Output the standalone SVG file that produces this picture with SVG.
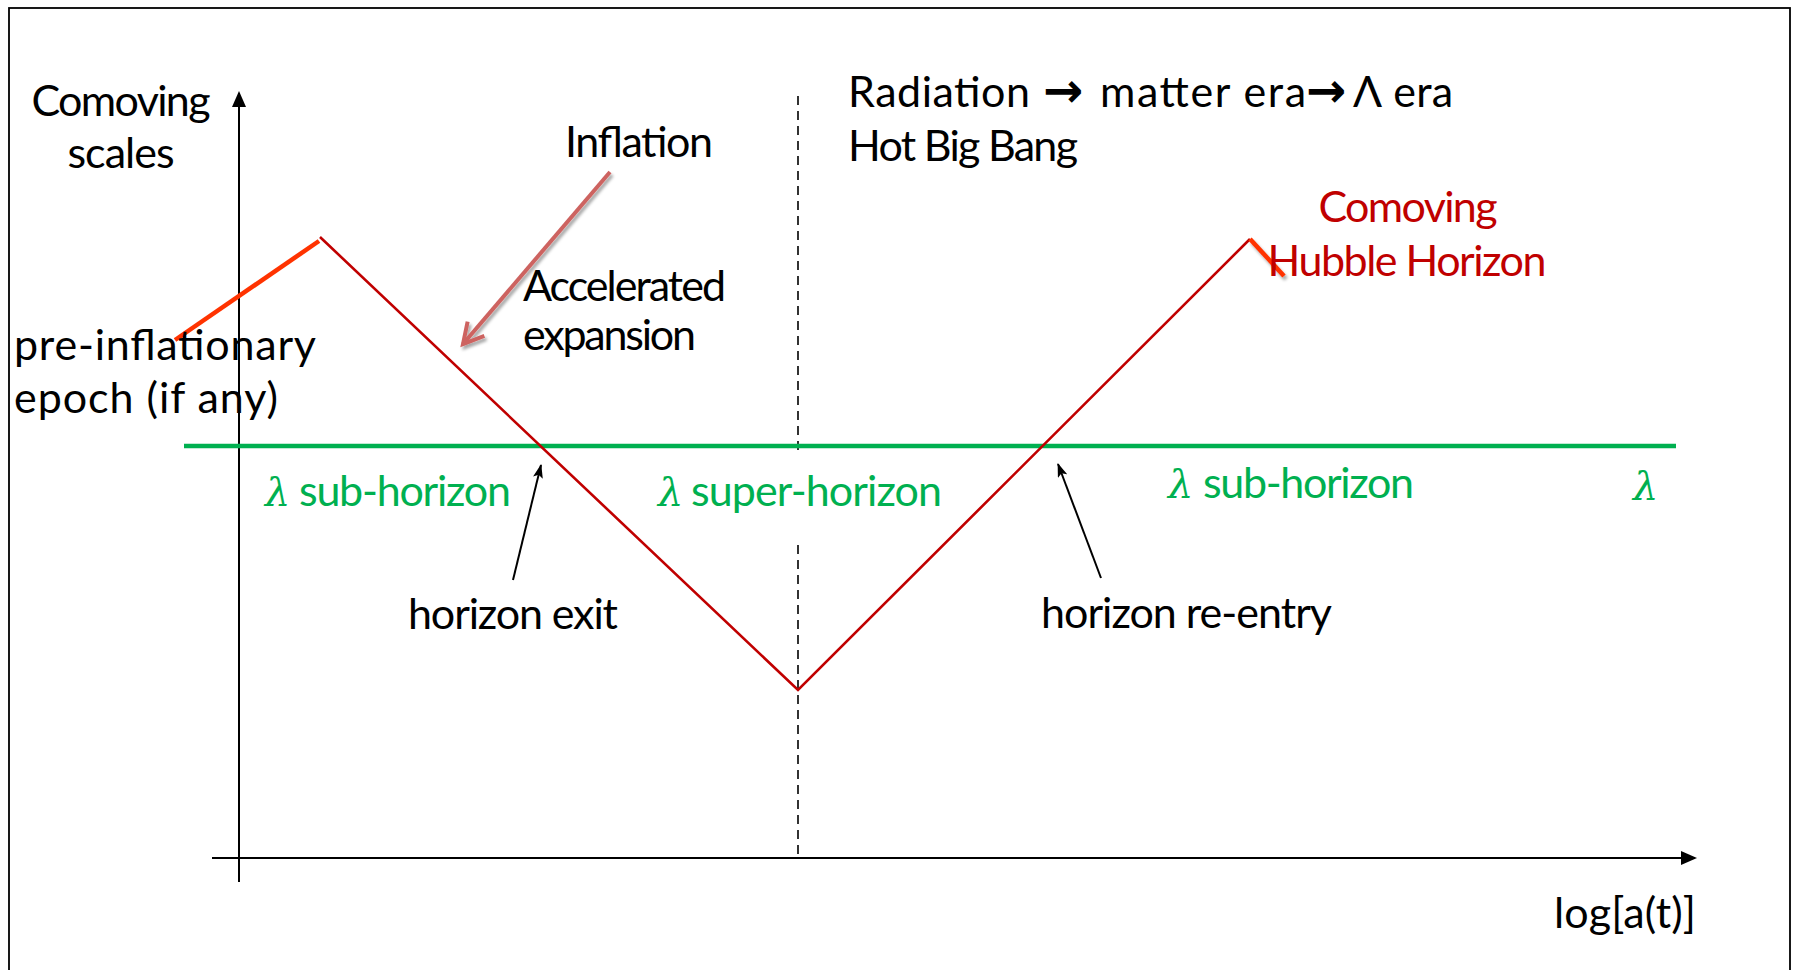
<svg xmlns="http://www.w3.org/2000/svg" width="1801" height="970" viewBox="0 0 1801 970">
<style>
.t{font-family:Lato,"Open Sans","Liberation Sans",sans-serif;font-size:43px;fill:#000}
.r{fill:#c00000}
.g{fill:#00b050}
.lam{font-family:"DejaVu Serif","Liberation Serif",serif;font-style:italic;font-size:40px}
.arr{font-family:"DejaVu Sans",sans-serif;font-weight:bold;font-size:48px}
.ax{stroke:#000;stroke-width:2;fill:none}
.dash{stroke:#000;stroke-width:1.6;stroke-dasharray:9 6;fill:none}
</style>
<defs>
<marker id="ah" markerUnits="userSpaceOnUse" markerWidth="16" markerHeight="14" refX="14" refY="7" orient="auto"><path d="M0,0 L16,7 L0,14 Z" fill="#000"/></marker>
<marker id="sh" markerUnits="userSpaceOnUse" markerWidth="14" markerHeight="10" refX="13" refY="5" orient="auto"><path d="M0,0 L14,5 L0,10 L3,5 Z" fill="#000"/></marker>
<marker id="oa" markerUnits="userSpaceOnUse" markerWidth="30" markerHeight="30" refX="24" refY="15" orient="auto"><path d="M4,4 L24,15 L4,26" fill="none" stroke="#cd6361" stroke-width="4"/></marker>
<filter id="shd" x="-20%" y="-20%" width="160%" height="160%"><feDropShadow dx="2" dy="3" stdDeviation="1.5" flood-color="#000" flood-opacity="0.35"/></filter>
</defs>
<rect x="0" y="0" width="1801" height="970" fill="#fff"/>
<rect x="9" y="8" width="1781" height="990" fill="none" stroke="#000" stroke-width="1.8"/>

<g id="axes">
<line class="ax" x1="239" y1="882" x2="239" y2="93" marker-end="url(#ah)"/>
<line class="ax" x1="212" y1="858" x2="1695" y2="858" marker-end="url(#ah)"/>
</g>

<g id="era-divider">
<line class="dash" x1="798" y1="96" x2="798" y2="455"/>
<line class="dash" x1="798" y1="545" x2="798" y2="857"/>
</g>

<g id="wavelength">
<line x1="184" y1="446" x2="1676" y2="446" stroke="#00b050" stroke-width="4.5"/>
</g>

<g id="hubble-horizon">
<polyline points="320,237 798,690 1250,239" fill="none" stroke="#c00000" stroke-width="2.6"/>
<line x1="319" y1="241" x2="175" y2="340" stroke="#ff3300" stroke-width="4.5"/>
<line x1="1250" y1="239" x2="1284" y2="276" stroke="#ff3300" stroke-width="4.5" filter="url(#shd)"/>
</g>

<g id="connectors">
<line x1="610" y1="172" x2="463" y2="344" stroke="#cd6361" stroke-width="4" marker-end="url(#oa)" filter="url(#shd)"/>
<line x1="513" y1="580" x2="541" y2="465" stroke="#000" stroke-width="2" marker-end="url(#sh)"/>
<line x1="1101" y1="578" x2="1058" y2="464" stroke="#000" stroke-width="2" marker-end="url(#sh)"/>
</g>

<g id="label-y-axis">
<text class="t" x="121" y="116" text-anchor="middle" textLength="179">Comoving</text>
<text class="t" x="121" y="168" text-anchor="middle" textLength="107">scales</text>
</g>
<g id="label-inflation">
<text class="t" x="565" y="157" textLength="148">Inflation</text>
</g>
<g id="label-accelerated">
<text class="t" x="523" y="301" textLength="203">Accelerated</text>
<text class="t" x="523" y="350" textLength="173">expansion</text>
</g>
<g id="label-pre-inflationary">
<text class="t" x="14" y="360" textLength="302">pre-inflationary</text>
<text class="t" x="14" y="413" textLength="264">epoch (if any)</text>
</g>
<g id="label-eras">
<text class="t" y="107"><tspan x="848" textLength="182">Radiation</tspan><tspan class="arr" x="1043">→</tspan><tspan x="1100" textLength="206">matter era</tspan><tspan class="arr" x="1306">→</tspan><tspan x="1353" textLength="100">Λ era</tspan></text>
<text class="t" x="848" y="161" textLength="230">Hot Big Bang</text>
</g>
<g id="label-hubble">
<text class="t r" x="1408" y="222" text-anchor="middle" textLength="179">Comoving</text>
<text class="t r" x="1407" y="276" text-anchor="middle" textLength="279">Hubble Horizon</text>
</g>
<g id="label-sub-left">
<text class="t g" y="506"><tspan class="lam" x="265">λ</tspan><tspan x="299" textLength="212">sub-horizon</tspan></text>
</g>
<g id="label-super">
<text class="t g" y="506"><tspan class="lam" x="658">λ</tspan><tspan x="691" textLength="251">super-horizon</tspan></text>
</g>
<g id="label-sub-right">
<text class="t g" y="498"><tspan class="lam" x="1168">λ</tspan><tspan x="1203" textLength="211">sub-horizon</tspan></text>
</g>
<g id="label-lambda">
<text class="t g lam" x="1633" y="500">λ</text>
</g>
<g id="label-exit">
<text class="t" x="408" y="629" textLength="210">horizon exit</text>
</g>
<g id="label-reentry">
<text class="t" x="1041" y="628" textLength="291">horizon re-entry</text>
</g>
<g id="label-x-axis">
<text class="t" x="1554" y="928" textLength="142">log[a(t)]</text>
</g>
</svg>
